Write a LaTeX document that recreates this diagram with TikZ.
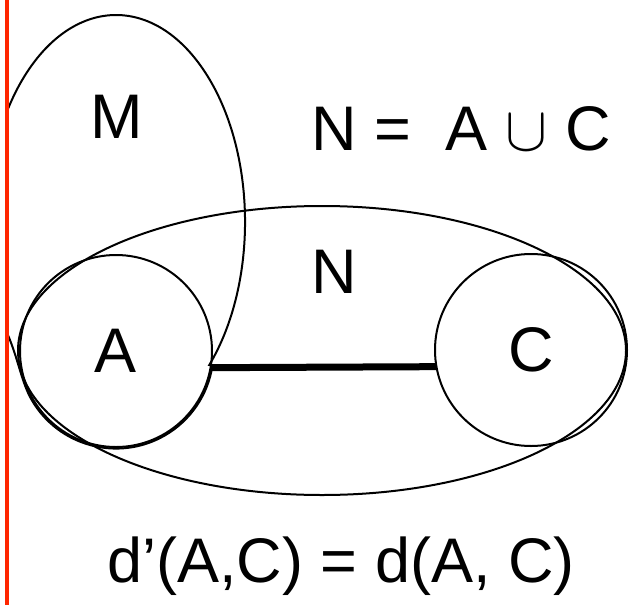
\RequirePackage{fix-cm}
\documentclass[tikz,border=0pt]{standalone}
\usepackage{fontspec}
\setmainfont{Liberation Sans}
\usetikzlibrary{shapes.geometric}
\definecolor{slidered}{RGB}{255,38,0}
\newcommand{\slidefont}{\fontsize{63}{70}\selectfont}

\begin{document}
\begin{tikzpicture}[
				x=1pt, y=-1pt,
				region/.style={
					draw, black, line width=2pt,
					inner sep=0pt, outer sep=0pt
				},
				ellregion/.style={
					region, ellipse
				},
				circregion/.style={
					region, circle, minimum size=192pt, font=\slidefont
				},
				lbl/.style={inner sep=0pt, font=\slidefont},
				bond/.style={line width=7pt, black},
				edge/.style={line width=4pt, slidered}
				]
				\useasboundingbox (0,0) rectangle (634,605);
				
				% set N
				\node[ellregion, minimum width=608pt, minimum height=289pt] (Nset) at (322,350.5) {};
				
				% set M (its lower part runs along A, cut at the slide edge)
				\begin{scope}
					\clip (7,0) rectangle (634,605);
					\draw[region] (209.3,365)
						arc[start angle=43.7, end angle=-213, x radius=129, y radius=207]
						.. controls (18.5,360) and (21.6,382.5) .. (31.6,399.8)
						arc[start angle=150, end angle=8.5, radius=97.5] -- cycle;
				\end{scope}
				
				% A and C
				\node[circregion] (A) at (116,351) {A};
				\node[circregion] (C) at (531,350) {C};
				
				% distance between A and C
				\draw[bond] (A.-10) -- (C.190);
				
				% labels
				\node[lbl] (Mlabel) at (117,117) {M};
				\node[lbl] (Nlabel) at (334,272) {N};
				\node[lbl, anchor=base west] (union) at (311,150) {N =\ \ A $\cup$ C};
				\node[lbl, anchor=base east] (dist) at (575,582) {d’(A,C) = d(A, C)};
				
				% red edge of the slide
				\coordinate (edgetop) at (7,0);
				\coordinate (edgebot) at (7,605);
				\draw[edge] (edgetop) -- (edgebot);
			\end{tikzpicture}
\end{document}
